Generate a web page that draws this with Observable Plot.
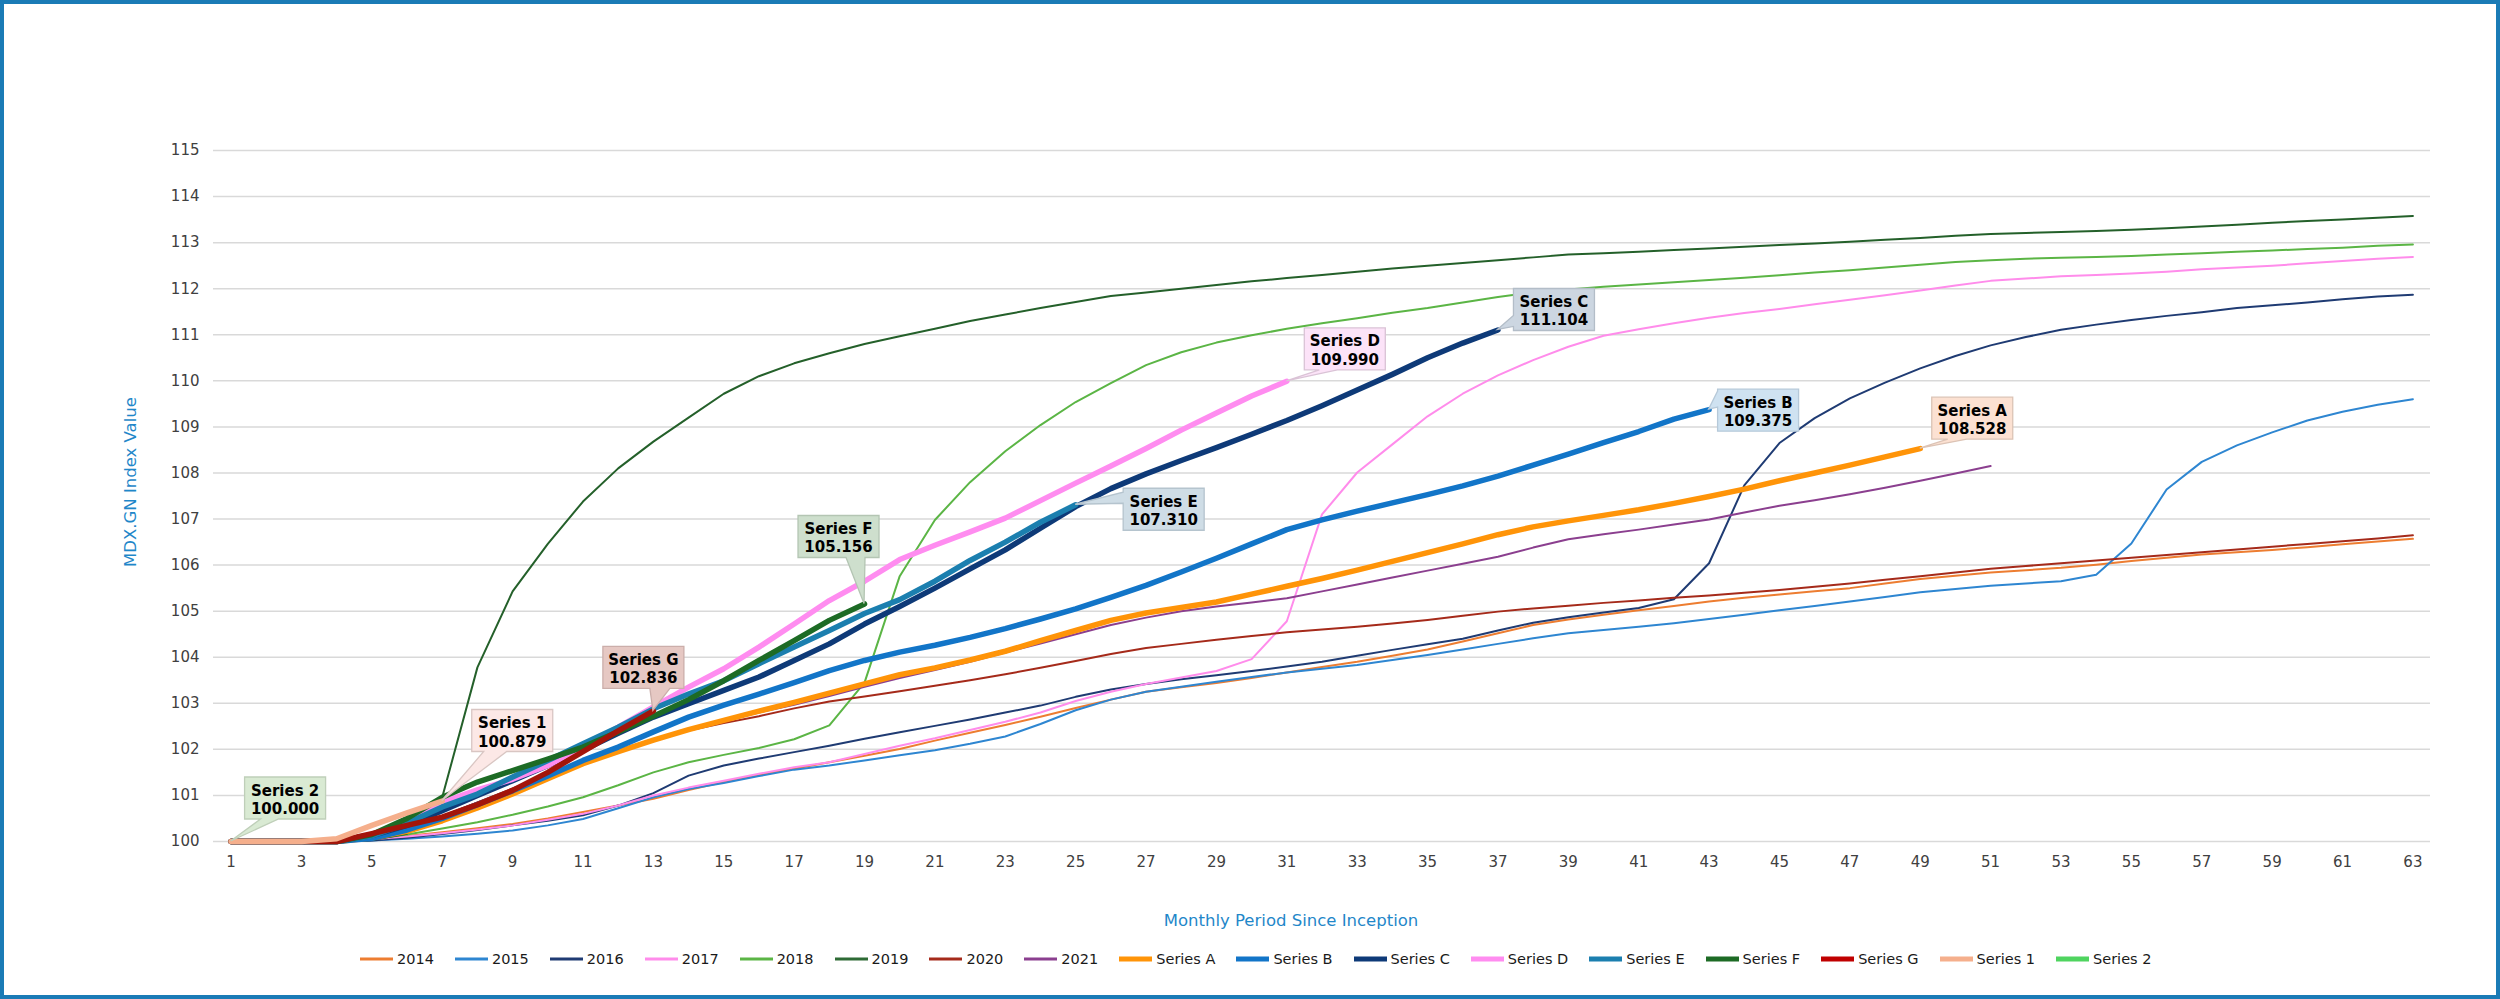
<!DOCTYPE html>
<html>
<head>
<meta charset="utf-8">
<script src="https://cdn.jsdelivr.net/npm/d3@7"></script>
<script src="https://cdn.jsdelivr.net/npm/@observablehq/plot@0.6"></script>
<style>
html, body { margin: 0; padding: 0; background: #fff; }
#wrap { position: relative; width: 2500px; height: 999px; overflow: hidden; font-family: "DejaVu Sans", Verdana, sans-serif; background: #fff; }
#chart { position: absolute; left: 0; top: 0; }
#frame { position: absolute; left: 0; top: 0; width: 2500px; height: 999px; box-sizing: border-box; border: 4px solid #1a7bb6; pointer-events: none; }
.ytitle { position: absolute; left: 130px; top: 482px; transform: translate(-50%, -50%) rotate(-90deg); color: #1f87c9; font-size: 16.5px; white-space: nowrap; }
.xtitle { position: absolute; left: 1291px; top: 920px; transform: translate(-50%, -50%); color: #1f87c9; font-size: 16.5px; white-space: nowrap; }
#legend { position: absolute; left: 360px; top: 948px; height: 22px; display: flex; align-items: center; gap: 21px; font-size: 14.5px; color: #1a1a1a; white-space: nowrap; }
#legend .item { display: flex; align-items: center; gap: 4px; }
#legend svg { display: block; }
</style>
</head>
<body>
<div id="wrap">
  <div id="chart"></div>
  <div class="ytitle">MDX.GN Index Value</div>
  <div class="xtitle">Monthly Period Since Inception</div>
  <div id="legend"></div>
  <div id="frame"></div>
</div>
<script>
// ---------- data ----------
const periods = d3.range(1, 64);
const xTicks = [1,3,5,7,9,11,13,15,17,19,21,23,25,27,29,31,33,35,37,39,41,43,45,47,49,51,53,55,57,59,61,63];
const yTicks = [100,101,102,103,104,105,106,107,108,109,110,111,112,113,114,115];

const seriesNames = ["2014","2015","2016","2017","2018","2019","2020","2021",
  "Series A","Series B","Series C","Series D","Series E","Series F","Series G","Series 1","Series 2"];

const v2014 = [100,100,100,100,100.06,100.12,100.2,100.29,100.38,100.5,
  100.64,100.78,100.93,101.12,101.29,101.44,101.58,101.72,101.86,102.01,
  102.19,102.36,102.53,102.71,102.9,103.08,103.25,103.35,103.44,103.55,
  103.67,103.79,103.9,104.03,104.17,104.34,104.52,104.7,104.82,104.92,
  105.02,105.11,105.21,105.29,105.36,105.43,105.5,105.6,105.7,105.77,
  105.84,105.89,105.94,106.01,106.09,106.16,106.23,106.28,106.33,106.39,
  106.45,106.51,106.57];
const v2015 = [100,100,100,100,100.02,100.06,100.11,100.17,100.24,100.35,
  100.49,100.72,100.96,101.14,101.27,101.42,101.56,101.65,101.76,101.87,
  101.98,102.12,102.28,102.55,102.85,103.08,103.25,103.36,103.47,103.57,
  103.67,103.75,103.83,103.94,104.05,104.17,104.29,104.41,104.52,104.59,
  104.66,104.74,104.83,104.92,105.02,105.11,105.21,105.31,105.41,105.48,
  105.55,105.6,105.65,105.79,106.47,107.64,108.24,108.6,108.88,109.14,
  109.33,109.48,109.6];
const v2016 = [100,100,100,100,100.02,100.08,100.16,100.25,100.35,100.45,
  100.57,100.78,101.05,101.43,101.65,101.8,101.94,102.08,102.23,102.37,
  102.51,102.65,102.8,102.95,103.14,103.3,103.42,103.52,103.61,103.7,
  103.8,103.9,104.03,104.16,104.28,104.4,104.58,104.75,104.87,104.97,
  105.07,105.26,106.04,107.73,108.65,109.19,109.62,109.96,110.27,110.54,
  110.77,110.95,111.11,111.22,111.32,111.41,111.49,111.58,111.64,111.7,
  111.77,111.83,111.87];
const v2017 = [100,100,100,100,100.05,100.11,100.18,100.26,100.35,100.47,
  100.6,100.78,101.0,101.17,101.32,101.47,101.61,101.72,101.9,102.08,
  102.24,102.42,102.6,102.8,103.05,103.25,103.42,103.56,103.7,103.96,
  104.78,107.1,108.01,108.62,109.23,109.72,110.12,110.45,110.74,110.98,
  111.12,111.25,111.37,111.47,111.56,111.66,111.76,111.86,111.96,112.07,
  112.17,112.22,112.27,112.3,112.33,112.37,112.42,112.46,112.5,112.55,
  112.6,112.65,112.69];
const v2018 = [100,100,100,100,100.05,100.15,100.28,100.42,100.58,100.76,
  100.96,101.22,101.5,101.72,101.88,102.03,102.22,102.52,103.45,105.76,
  106.98,107.8,108.47,109.04,109.54,109.95,110.34,110.62,110.83,110.99,
  111.13,111.25,111.36,111.48,111.58,111.7,111.82,111.92,111.98,112.04,
  112.09,112.14,112.19,112.24,112.29,112.35,112.4,112.46,112.52,112.58,
  112.62,112.65,112.67,112.69,112.71,112.74,112.77,112.8,112.83,112.86,
  112.89,112.93,112.96];
const v2019 = [100,100,100,100,100.03,100.17,100.96,103.78,105.43,106.46,
  107.38,108.1,108.68,109.2,109.72,110.1,110.38,110.6,110.8,110.97,
  111.13,111.3,111.44,111.58,111.71,111.84,111.92,112.0,112.08,112.16,
  112.23,112.3,112.37,112.44,112.5,112.56,112.62,112.68,112.74,112.77,
  112.8,112.84,112.87,112.91,112.95,112.98,113.02,113.06,113.1,113.15,
  113.19,113.21,113.23,113.25,113.28,113.31,113.35,113.39,113.43,113.47,
  113.5,113.54,113.58];
const v2020 = [100,100,100,100,100.1,100.25,100.55,100.85,101.15,101.45,
  101.72,101.98,102.2,102.41,102.57,102.72,102.89,103.04,103.15,103.26,
  103.38,103.5,103.63,103.77,103.92,104.07,104.2,104.29,104.38,104.46,
  104.54,104.6,104.66,104.73,104.81,104.9,104.99,105.06,105.12,105.18,
  105.23,105.29,105.34,105.4,105.46,105.53,105.6,105.68,105.76,105.84,
  105.92,105.98,106.04,106.1,106.16,106.22,106.28,106.34,106.4,106.46,
  106.52,106.58,106.65];
const v2021 = [100,100,100,100,100.1,100.28,100.55,100.84,101.12,101.42,
  101.7,101.98,102.22,102.44,102.62,102.8,102.97,103.16,103.36,103.55,
  103.72,103.9,104.1,104.3,104.5,104.7,104.86,105.0,105.1,105.19,
  105.28,105.43,105.58,105.73,105.88,106.03,106.18,106.38,106.56,106.67,
  106.77,106.88,106.99,107.14,107.29,107.41,107.54,107.68,107.83,107.99,
  108.15];
const seriesA = [100,100,100,100,100.08,100.22,100.45,100.73,101.03,101.36,
  101.69,101.95,102.2,102.43,102.63,102.83,103.02,103.22,103.42,103.62,
  103.77,103.94,104.13,104.36,104.58,104.8,104.96,105.08,105.2,105.37,
  105.54,105.71,105.89,106.08,106.27,106.46,106.66,106.83,106.96,107.08,
  107.2,107.34,107.49,107.65,107.83,108.0,108.17,108.35,108.528];
const seriesB = [100,100,100,100,100.07,100.25,100.5,100.8,101.1,101.42,
  101.76,102.05,102.38,102.7,102.96,103.2,103.45,103.71,103.93,104.11,
  104.26,104.43,104.62,104.83,105.05,105.3,105.56,105.85,106.15,106.46,
  106.77,106.98,107.17,107.35,107.53,107.72,107.93,108.17,108.41,108.66,
  108.9,109.17,109.375];
const seriesC = [100,100,100,100,100.13,100.35,100.67,101.0,101.32,101.65,
  101.98,102.35,102.7,102.99,103.28,103.57,103.93,104.29,104.72,105.1,
  105.5,105.92,106.33,106.8,107.27,107.66,107.98,108.27,108.55,108.84,
  109.14,109.46,109.8,110.14,110.5,110.82,111.104];
const seriesD = [100,100,100,100,100.15,100.45,100.85,101.12,101.35,101.65,
  102.05,102.48,102.92,103.35,103.75,104.22,104.72,105.23,105.65,106.12,
  106.43,106.72,107.02,107.4,107.78,108.15,108.53,108.93,109.3,109.67,
  109.99];
const seriesE = [100,100,100,100,100.12,100.4,100.75,101.03,101.4,101.76,
  102.12,102.48,102.88,103.2,103.49,103.86,104.22,104.58,104.95,105.25,
  105.65,106.1,106.5,106.93,107.31];
const seriesF = [100,100,100,100,100.15,100.5,100.96,101.29,101.54,101.79,
  102.05,102.38,102.72,103.08,103.49,103.93,104.36,104.8,105.156];
const seriesG = [100,100,100,100,100.17,100.35,100.53,100.8,101.11,101.5,
  101.95,102.4,102.836];
const series1 = [100,100,100,100.06,100.35,100.62,100.879];
const series2 = [100.0];

const seriesValues = [v2014, v2015, v2016, v2017, v2018, v2019, v2020, v2021,
  seriesA, seriesB, seriesC, seriesD, seriesE, seriesF, seriesG, series1, series2];

// callout labels (series with end-point labels)
const calloutSeries = ["Series 2","Series 1","Series G","Series F","Series E","Series D","Series C","Series B","Series A"];

// ---------- styles ----------
const FONT = '"DejaVu Sans", Verdana, sans-serif';
const lineColors = ["#ED7D31","#2E86D1","#1F3B73","#FF8CEB","#5BB545","#24602A","#A52A1A","#8B3F8F",
  "#FF9408","#1275C8","#0E3A78","#FF8CF0","#1B7FAF","#1D6B25","#A3150A","#F5AF8C","#4FD45F"];
const legendColors = ["#ED7D31","#2E86D1","#1F3B73","#FF8CEB","#5BB545","#2E6B35","#A52A1A","#8B3F8F",
  "#FF9408","#1275C8","#0E3A78","#FF8CF0","#1B7FAF","#1D6B25","#C00000","#F5AF8C","#4FD45F"];
const lineWidths = [2,2,2,2,2,2,2,2, 5.5,5.5,5.5,5.5,5.5,5.5,5.5,5.5,5.5];

// callout layout: box offset from the point (px), wedge side and base
const calloutStyle = {
  "Series 2": {dx: 14, dy: -64, side: "bottom", b0: 16, b1: 34, fill: "#D9EAD3", stroke: "#BFCFB9"},
  "Series 1": {dx: 30, dy: -91, side: "bottom", b0: 12, b1: 35, fill: "#FCE8E6", stroke: "#D9C6C3"},
  "Series G": {dx: -50, dy: -64, side: "bottom", b0: 47, b1: 67, fill: "#E6C8C3", stroke: "#CBAEAA"},
  "Series F": {dx: -66, dy: -88, side: "bottom", b0: 48, b1: 67, fill: "#CEDFCD", stroke: "#B4C5B3"},
  "Series E": {dx: 48, dy: -16, side: "left", b0: 4, b1: 15, fill: "#CFDDE6", stroke: "#B5C4CE"},
  "Series D": {dx: 18, dy: -53, side: "bottom", b0: 15, b1: 33, fill: "#FCE3F8", stroke: "#DAC3D6"},
  "Series C": {dx: 16, dy: -41, side: "left", b0: 27, b1: 38, fill: "#CCD6E1", stroke: "#B3BDC8"},
  "Series B": {dx: 9, dy: -20, side: "left", b0: 2, b1: 18, fill: "#CFE2F1", stroke: "#B6C9D9"},
  "Series A": {dx: 12, dy: -51, side: "bottom", b0: 16, b1: 35, fill: "#FCE1D2", stroke: "#DCC3B5"}
};
const BOX_W = 81, BOX_H = 42;

// ---------- build ----------
const rowsBySeries = seriesNames.map((name, i) =>
  seriesValues[i].map((v, j) => ({series: name, period: periods[j], value: v})));

const callouts = calloutSeries.map(name => {
  const rows = rowsBySeries[seriesNames.indexOf(name)];
  const last = rows[rows.length - 1];
  return {name, period: last.period, value: last.value, ...calloutStyle[name]};
});

function calloutMark(items) {
  return (index, scales) => {
    const g = d3.create("svg:g")
      .attr("font-family", FONT).attr("font-weight", "bold").attr("font-size", 15).attr("fill", "#000");
    for (const c of items) {
      const px = scales.x(c.period), py = scales.y(c.value);
      const L = px + c.dx, T = py + c.dy, R = L + BOX_W, B = T + BOX_H;
      let d;
      if (c.side === "bottom") {
        d = `M${L},${T}H${R}V${B}H${L + c.b1}L${px},${py}L${L + c.b0},${B}H${L}Z`;
      } else {
        d = `M${L},${T}H${R}V${B}H${L}V${T + c.b1}L${px},${py}L${L},${T + c.b0}Z`;
      }
      g.append("path").attr("d", d).attr("fill", c.fill).attr("stroke", c.stroke).attr("stroke-width", 1.3);
      g.append("text").attr("x", L + BOX_W / 2).attr("y", T + 18.5).attr("text-anchor", "middle").text(c.name);
      g.append("text").attr("x", L + BOX_W / 2).attr("y", T + 37).attr("text-anchor", "middle").text(c.value.toFixed(3));
    }
    return g.node();
  };
}

const lineMarks = rowsBySeries.map((rows, i) =>
  Plot.line(rows, {
    x: "period", y: "value",
    stroke: lineColors[i], strokeWidth: lineWidths[i],
    strokeLinecap: seriesNames[i] === "Series 2" ? "butt" : "round",
    strokeLinejoin: "round"
  }));

const chart = Plot.plot({
  width: 2500,
  height: 940,
  marginLeft: 213,
  marginRight: 70,
  marginTop: 150,
  marginBottom: 99,
  x: {type: "linear", domain: [0.5, 63.5], label: null},
  y: {domain: [100, 115], label: null},
  style: {fontFamily: FONT, fontSize: "15px", color: "#404040", background: "transparent", overflow: "visible"},
  marks: [
    Plot.gridY(yTicks, {stroke: "#d9d9d9", strokeOpacity: 1, strokeWidth: 1.5}),
    Plot.axisY(yTicks, {tickSize: 0, tickPadding: 14, label: null}),
    Plot.axisX(xTicks, {tickSize: 0, tickPadding: 15, label: null}),
    ...lineMarks,
    calloutMark(callouts)
  ]
});
document.getElementById("chart").appendChild(chart);

// ---------- legend ----------
const legend = d3.select("#legend");
seriesNames.forEach((name, i) => {
  const item = legend.append("div").attr("class", "item");
  const sw = item.append("svg").attr("width", 33).attr("height", 10);
  sw.append("line").attr("x1", 0).attr("x2", 33).attr("y1", 5).attr("y2", 5)
    .attr("stroke", legendColors[i]).attr("stroke-width", lineWidths[i] > 3 ? 5 : 3)
    .attr("stroke-linecap", lineWidths[i] > 3 ? "round" : "butt");
  item.append("span").text(name);
});
</script>
</body>
</html>
